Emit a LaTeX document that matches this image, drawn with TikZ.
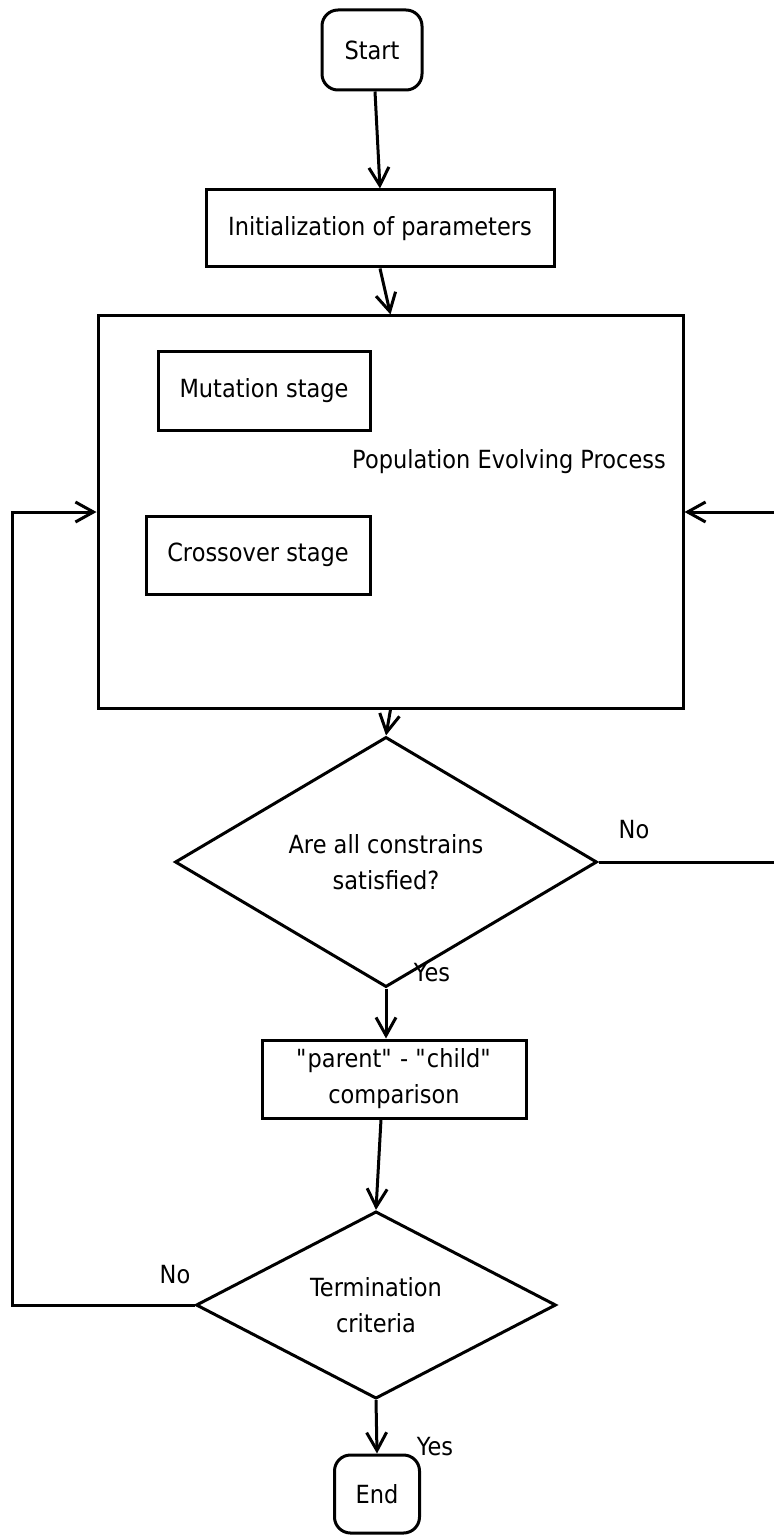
\documentclass[tikz,border=0pt]{standalone}
\usepackage{fontspec}
\setmainfont{DejaVu Sans}[FakeStretch=0.9]
\usetikzlibrary{arrows.meta,shapes.geometric}
\begin{document}
\begin{tikzpicture}[x=0.5pt,y=-0.5pt,
  line width=1.5pt,
  every node/.style={font=\fontsize{12.5}{18}\selectfont},
  terminal/.style={draw,rounded corners=8pt,inner sep=0pt},
  stepbox/.style={draw,inner sep=0pt,align=center},
  decision/.style={draw,diamond,inner sep=0pt,align=center},
  flow/.style={-{Straight Barb[length=9pt,width=10pt]}},
  lbl/.style={inner sep=0pt}]
\useasboundingbox (0,0) rectangle (773,1535);

% main column
\node[terminal,minimum width=50pt,minimum height=40pt] (start) at (372,50) {Start};
\node[stepbox,minimum width=174pt,minimum height=38.5pt] (init) at (380,228.5) {Initialization of parameters};
\node[stepbox,minimum width=292.5pt,minimum height=196pt] (pep) at (390.5,512) {};
\node[lbl] (peptext) at (509,462) {Population Evolving Process};
\node[stepbox,minimum width=106pt,minimum height=39pt] (mut) at (264,391) {Mutation stage};
\node[stepbox,minimum width=112pt,minimum height=39pt] (cross) at (258,555) {Crossover stage};
\node[decision,minimum width=211pt,minimum height=104pt] (cons) at (386,862) {Are all constrains\\satisfied?};
\node[stepbox,minimum width=132pt,minimum height=39pt] (cmp) at (394,1079)
  {\textquotedbl parent\textquotedbl{} - \textquotedbl child\textquotedbl\\comparison};
\node[decision,minimum width=180pt,minimum height=88.5pt] (term) at (376,1305) {Termination\\criteria};
\node[terminal,minimum width=42.5pt,minimum height=39pt] (end) at (377,1494) {End};

% branch labels
\node[lbl] (no1) at (634,830) {No};
\node[lbl] (yes1) at (432,973) {Yes};
\node[lbl] (no2) at (175,1275) {No};
\node[lbl] (yes2) at (435,1447) {Yes};

% loop corners
\coordinate (rt) at (777,862);
\coordinate (rb) at (777,512);
\coordinate (lb) at (12,1305);
\coordinate (lt) at (12,512);

% connectors
\draw[flow] ([xshift=1.5pt]start.south) -- (init.north);
\draw[flow] (init.south) -- (pep.north);
\draw[flow] (pep.south) -- (cons.north);
\draw[flow] (cons.south) -- (cons.south |- cmp.north);
\draw[flow] ([xshift=-6.5pt]cmp.south) -- (term.north);
\draw[flow] (term.south) -- (end.north);
\draw[flow] (cons.east) -- (rt) -- (rb) -- (pep.east);
\draw[flow] (term.west) -- (lb) -- (lt) -- (pep.west);
\end{tikzpicture}
\end{document}
